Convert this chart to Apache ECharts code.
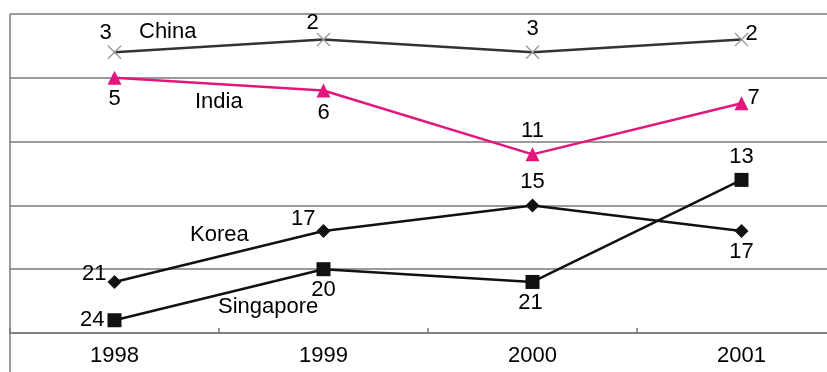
<!DOCTYPE html>
<html>
<head>
<meta charset="utf-8">
<script src="https://cdn.jsdelivr.net/npm/echarts@6/dist/echarts.min.js"></script>
<style>
  html, body { margin: 0; padding: 0; background: #fff; overflow: hidden; }
  /* plot runs past the right edge of the window, so the canvas is wider than the view */
  #chart { width: 846px; height: 372px; }
</style>
</head>
<body>
<div id="chart"></div>
<script>
// Ranking by year (1 = best); axis is inverted so top ranks sit high
const years = ['1998', '1999', '2000', '2001'];
const china = [3, 2, 3, 2];
const india = [5, 6, 11, 7];
const korea = [21, 17, 15, 17];
const singapore = [24, 20, 21, 13];

// Label placement per point: [position, offsetX, offsetY]
const chinaLabelPos = [['top', -9, 2], ['top', -11, 4], ['top', 0, -2], ['right', -6, -6]];
const indiaLabelPos = [['bottom', 0, 0], ['bottom', 0, 1], ['top', 0, -2], ['right', -4, -5]];
const koreaLabelPos = [['left', 2, -8], ['left', 2, -12], ['top', 0, -2], ['bottom', 0, 0]];
const singaporeLabelPos = [['left', 0, 0], ['bottom', 0, 0], ['bottom', -2, 0], ['top', 0, -2]];

const FONT = 'Liberation Sans, Arial, sans-serif';
const FS = 22;

const crossPath = 'path://M0,1L1,0L7,6L13,0L14,1L8,7L14,13L13,14L7,8L1,14L0,13L6,7Z';

function withLabels(values, placements) {
  return values.map((v, i) => ({
    value: v,
    label: {
      show: true,
      position: placements[i][0],
      offset: [placements[i][1], placements[i][2]],
      distance: 3,
      color: '#000',
      fontSize: FS,
      fontFamily: FONT
    }
  }));
}

function makeSeries(name, values, placements, color, symbol, size, symColor) {
  return {
    name: name,
    type: 'line',
    data: withLabels(values, placements),
    symbol: symbol,
    symbolSize: size,
    showAllSymbol: true,
    lineStyle: { color: color, width: 2.5 },
    itemStyle: { color: symColor || color },
    z: 3
  };
}

const chart = echarts.init(document.getElementById('chart'));
chart.setOption({
  animation: false,
  grid: { left: 10, right: 0, top: 14, bottom: 39 },
  xAxis: {
    type: 'category',
    data: years,
    position: 'bottom',
    boundaryGap: true,
    axisLine: { onZero: false, lineStyle: { color: '#7a7a7a', width: 1.5 } },
    axisTick: { show: true, inside: true, length: 5, lineStyle: { color: '#7a7a7a', width: 1.5 } },
    axisLabel: { color: '#000', fontSize: FS, fontFamily: FONT, margin: 12 }
  },
  yAxis: {
    type: 'value',
    inverse: true,
    min: 0,
    max: 25,
    interval: 5,
    axisLabel: { show: false },
    axisTick: { show: false },
    axisLine: { show: false },
    splitLine: { lineStyle: { color: '#7a7a7a', width: 1.5 } }
  },
  graphic: [
    { type: 'line', shape: { x1: 10, y1: 14, x2: 10, y2: 372 }, style: { stroke: '#7a7a7a', lineWidth: 1.5 }, z: 10 },
    { type: 'text', x: 139, y: 21, style: { text: 'China', fill: '#000', font: FS + 'px ' + FONT } },
    { type: 'text', x: 195, y: 91, style: { text: 'India', fill: '#000', font: FS + 'px ' + FONT } },
    { type: 'text', x: 190, y: 224, style: { text: 'Korea', fill: '#000', font: FS + 'px ' + FONT } },
    { type: 'text', x: 218, y: 296, style: { text: 'Singapore', fill: '#000', font: FS + 'px ' + FONT } }
  ],
  series: [
    makeSeries('China', china, chinaLabelPos, '#333333', crossPath, 14, '#9a9a9a'),
    makeSeries('India', india, indiaLabelPos, '#e3167e', 'triangle', 14),
    makeSeries('Korea', korea, koreaLabelPos, '#111111', 'diamond', 14),
    makeSeries('Singapore', singapore, singaporeLabelPos, '#111111', 'rect', 14)
  ]
});
</script>
</body>
</html>
